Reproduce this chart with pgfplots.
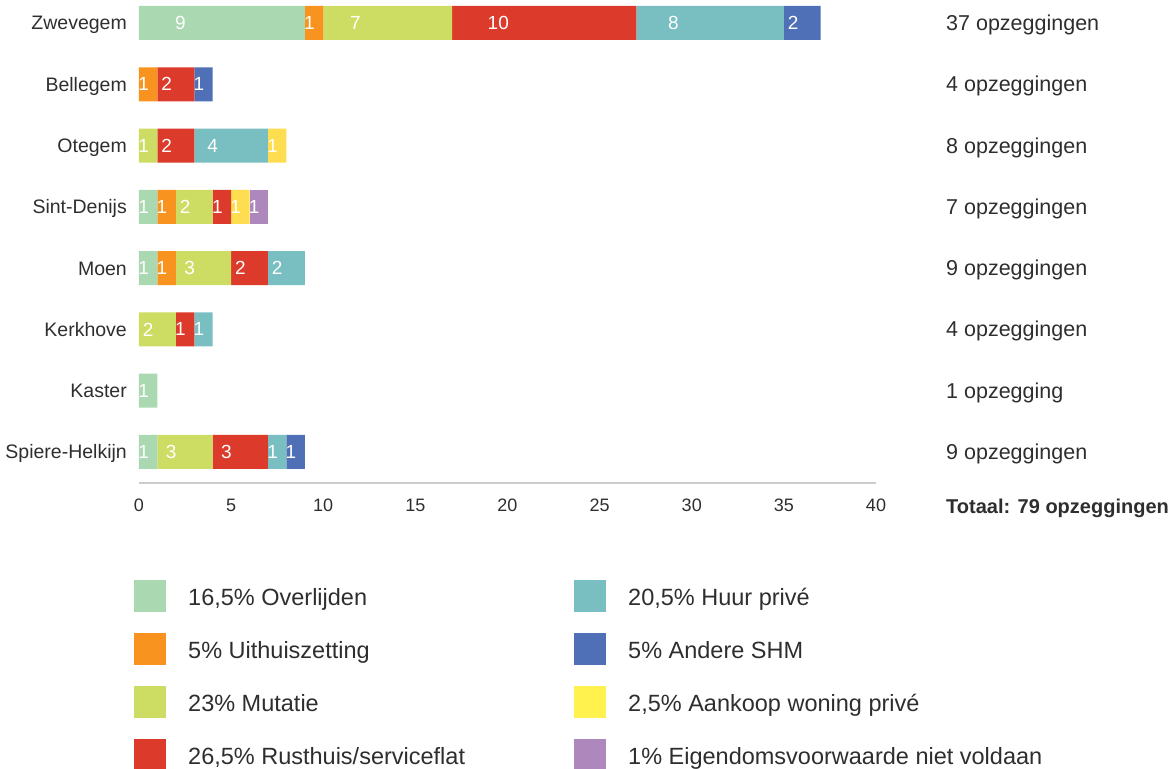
\documentclass[border=0pt]{standalone}
\usepackage{pgfplots}
\usepackage{pgfplotstable}
\pgfplotsset{compat=1.18}
\usepackage{fontspec}
\setmainfont{Liberation Sans}

\definecolor{cOverl}{HTML}{A9D8B1}
\definecolor{cUith}{HTML}{F7931E}
\definecolor{cMut}{HTML}{CDDC63}
\definecolor{cRust}{HTML}{DC3A2A}
\definecolor{cHuur}{HTML}{79BFC2}
\definecolor{cShm}{HTML}{4F6FB6}
\definecolor{cAank}{HTML}{FFDD50}
\definecolor{cAankLeg}{HTML}{FFF24E}
\definecolor{cEig}{HTML}{AE88BD}
\definecolor{txtgray}{HTML}{2E2E2E}
\definecolor{axisgray}{HTML}{CCCCCC}

% opzeggingen per deelgemeente and reason
% y: 7 Zwevegem, 6 Bellegem, 5 Otegem, 4 Sint-Denijs, 3 Moen, 2 Kerkhove, 1 Kaster, 0 Spiere-Helkijn
\pgfplotstableread{
y ov ui mu ru hu sh aa ei
7 9 1 7 10 8 2 0 0
6 0 1 0 2 0 1 0 0
5 0 0 1 2 4 0 1 0
4 1 1 2 1 0 0 1 1
3 1 1 3 2 2 0 0 0
2 0 0 2 1 1 0 0 0
1 1 0 0 0 0 0 0 0
0 1 0 3 3 1 1 0 0
}\opz

% every segment shows its own value, centred in the segment
\pgfplotsset{
  seglab/.style={
    point meta=explicit symbolic,
    nodes near coords={\ifnum\pgfplotspointmeta>0 \pgfplotspointmeta\fi},
    every node near coord/.append style={font=\fontsize{19}{22}\selectfont, text=white,
      anchor=center, inner sep=0pt, xshift={-4.60625pt*\pgfplotspointmeta}},
  },
}
\tikzset{
  totlabel/.style={anchor=base west, inner sep=0pt, text=txtgray, yshift=-7.5pt, font=\fontsize{21.5}{25}\selectfont},
}

\begin{document}
\begin{tikzpicture}
\path[use as bounding box] (0pt,0pt) rectangle (1171pt,769pt);
\begin{axis}[
  at={(139pt,286pt)}, anchor=south west,
  scale only axis, width=737pt, height=483pt,
  xmin=0, xmax=40, ymin=-0.506, ymax=7.375,
  xbar stacked, bar width=34pt,
  axis lines*=left,
  x axis line style={draw=axisgray, line width=1.2pt, -},
  y axis line style={draw=none},
  major tick length=0pt,
  xtick={0,5,10,15,20,25,30,35,40},
  xticklabels={0,5,10,15,20,25,30,35,40},
  ytick={0,1,2,3,4,5,6,7},
  yticklabels={Spiere-Helkijn,Kaster,Kerkhove,Moen,Sint-Denijs,Otegem,Bellegem,Zwevegem},
  xticklabel style={font=\fontsize{18}{21}\selectfont, text=txtgray, inner sep=0pt, anchor=north, yshift=-15.5pt},
  yticklabel style={font=\fontsize{19.5}{23}\selectfont, text=txtgray, inner sep=0pt, anchor=base east, xshift=-12pt, yshift=-7pt},
  clip=false,
  legend image code/.code={\fill[#1] (0pt,-14.8pt) rectangle (32pt,17.2pt);},
  legend columns=4,
  transpose legend,
  legend cell align=left,
  legend style={draw=none, fill=none, inner sep=0pt, at={(0,0)}, anchor=north west,
    xshift=-5pt, yshift=-97pt,
    font=\fontsize{23.5}{27}\selectfont, text=txtgray,
    nodes={inner sep=0pt},
    row sep=21pt,
    /tikz/every odd column/.append style={column sep=22pt}},
]
\addplot[fill=cOverl, draw=none, seglab] table[x=ov, y=y, meta=ov] {\opz};
\addlegendentry{\makebox[386pt][l]{16,5\% Overlijden}}
\addplot[fill=cUith, draw=none, seglab] table[x=ui, y=y, meta=ui] {\opz};
\addlegendentry{\makebox[386pt][l]{5\% Uithuiszetting}}
\addplot[fill=cMut, draw=none, seglab] table[x=mu, y=y, meta=mu] {\opz};
\addlegendentry{\makebox[386pt][l]{23\% Mutatie}}
\addplot[fill=cRust, draw=none, seglab] table[x=ru, y=y, meta=ru] {\opz};
\addlegendentry{\makebox[386pt][l]{26,5\% Rusthuis/serviceflat}}
\addplot[fill=cHuur, draw=none, seglab] table[x=hu, y=y, meta=hu] {\opz};
\addlegendentry{20,5\% Huur privé}
\addplot[fill=cShm, draw=none, seglab] table[x=sh, y=y, meta=sh] {\opz};
\addlegendentry{5\% Andere SHM}
\addplot[fill=cAank, draw=none, seglab,
  legend image code/.code={\fill[cAankLeg] (0pt,-14.8pt) rectangle (32pt,17.2pt);}]
  table[x=aa, y=y, meta=aa] {\opz};
\addlegendentry{2,5\% Aankoop woning privé}
\addplot[fill=cEig, draw=none, seglab] table[x=ei, y=y, meta=ei] {\opz};
\addlegendentry{1\% Eigendomsvoorwaarde niet voldaan}

% totals per deelgemeente
\node[totlabel] at (axis cs:43.8,7) {37 opzeggingen};
\node[totlabel] at (axis cs:43.8,6) {4 opzeggingen};
\node[totlabel] at (axis cs:43.8,5) {8 opzeggingen};
\node[totlabel] at (axis cs:43.8,4) {7 opzeggingen};
\node[totlabel] at (axis cs:43.8,3) {9 opzeggingen};
\node[totlabel] at (axis cs:43.8,2) {4 opzeggingen};
\node[totlabel] at (axis cs:43.8,1) {1 opzegging};
\node[totlabel] at (axis cs:43.8,0) {9 opzeggingen};
\node[anchor=base west, inner sep=0pt, text=txtgray, font=\fontsize{20}{24}\selectfont\bfseries, yshift=-7pt] at (axis cs:43.8,-0.897) {Totaal: 79 opzeggingen};
\end{axis}
\end{tikzpicture}
\end{document}
